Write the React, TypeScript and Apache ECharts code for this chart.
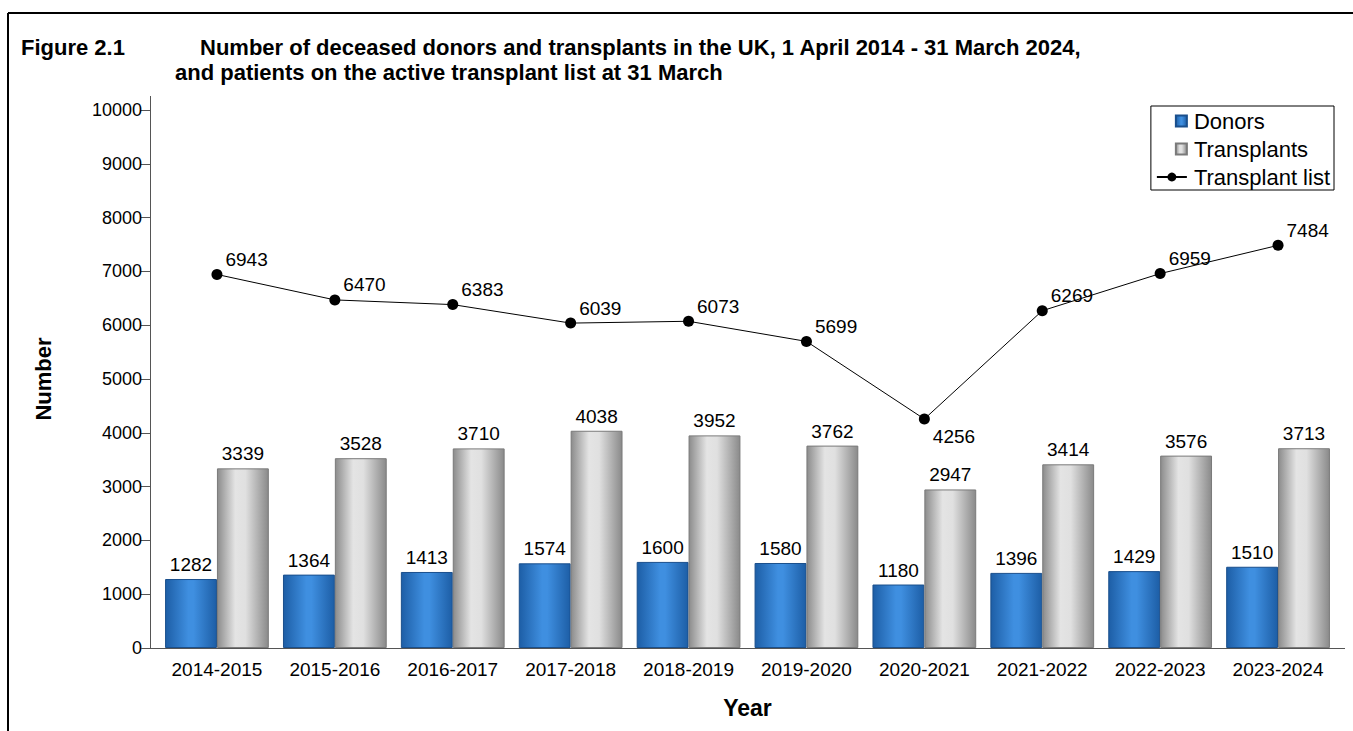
import React, { useEffect, useRef } from "react";
import * as echarts from "echarts";

const categories = [
  "2014-2015", "2015-2016", "2016-2017", "2017-2018", "2018-2019",
  "2019-2020", "2020-2021", "2021-2022", "2022-2023", "2023-2024",
];
const donors = [1282, 1364, 1413, 1574, 1600, 1580, 1180, 1396, 1429, 1510];
const transplants = [3339, 3528, 3710, 4038, 3952, 3762, 2947, 3414, 3576, 3713];
const transplantList = [6943, 6470, 6383, 6039, 6073, 5699, 4256, 6269, 6959, 7484];
const belowLabelIndex = 6;

const FONT = "'Liberation Sans', Arial, sans-serif";

export default function App() {
  const ref = useRef<HTMLDivElement>(null);
  useEffect(() => {
    if (!ref.current) return;
    const chart = echarts.init(ref.current, null, { renderer: "svg" });
    const blueGrad = new echarts.graphic.LinearGradient(0, 0, 1, 0, [
      { offset: 0, color: "#1d5ea6" },
      { offset: 0.45, color: "#3f8fe0" },
      { offset: 0.55, color: "#3f8fe0" },
      { offset: 1, color: "#1d5ea6" },
    ]);
    const grayGrad = new echarts.graphic.LinearGradient(0, 0, 1, 0, [
      { offset: 0, color: "#8c8c8c" },
      { offset: 0.35, color: "#e4e4e4" },
      { offset: 0.55, color: "#e0e0e0" },
      { offset: 1, color: "#8a8a8a" },
    ]);
    const sq = "path://M0,5 M19,0 L30,0 L30,11 L19,11 Z";
    const dataLabel = { fontSize: 19, color: "#000", fontFamily: FONT };
    chart.setOption({
      animation: false,
      textStyle: { fontFamily: FONT },
      grid: { left: 158, right: 16, top: 110, bottom: 83, containLabel: false },
      legend: {
        orient: "vertical",
        right: 19,
        top: 106,
        padding: [4, 4, 2, 5],
        borderColor: "#000",
        borderWidth: 1,
        itemGap: 6,
        itemWidth: 30,
        itemHeight: 11,
        textStyle: { fontSize: 22, color: "#000", fontFamily: FONT, padding: [0, 0, 0, 2] },
        data: [
          { name: "Donors", icon: sq },
          { name: "Transplants", icon: sq },
          { name: "Transplant list" },
        ],
      },
      xAxis: {
        type: "category",
        data: categories,
        name: "Year",
        nameLocation: "middle",
        nameGap: 48,
        nameTextStyle: { fontSize: 23, fontWeight: "bold", color: "#000", fontFamily: FONT },
        axisLine: { show: false },
        axisTick: { show: false },
        axisLabel: { fontSize: 19, color: "#000", fontFamily: FONT, margin: 12, interval: 0 },
      },
      yAxis: {
        type: "value",
        min: 0,
        max: 10000,
        interval: 1000,
        offset: 8,
        name: "Number",
        nameLocation: "middle",
        nameGap: 96,
        nameTextStyle: { fontSize: 22, fontWeight: "bold", color: "#000", fontFamily: FONT },
        axisLine: { show: true, lineStyle: { color: "#555", width: 1 } },
        axisTick: { show: true, length: 9, lineStyle: { color: "#555" } },
        splitLine: { show: false },
        axisLabel: { fontSize: 18, color: "#000", fontFamily: FONT, margin: 8, formatter: (v: number) => String(v) },
      },
      series: [
        {
          name: "Donors",
          type: "bar",
          data: donors,
          barGap: "0%",
          barCategoryGap: "12%",
          itemStyle: { color: blueGrad, borderColor: "#1a4f8c", borderWidth: 1 },
          label: { show: true, position: "top", distance: 5, ...dataLabel },
        },
        {
          name: "Transplants",
          type: "bar",
          data: transplants,
          itemStyle: { color: grayGrad, borderColor: "#7a7a7a", borderWidth: 1 },
          label: { show: true, position: "top", distance: 5, ...dataLabel },
        },
        {
          name: "Transplant list",
          type: "line",
          data: transplantList.map((v, i) => ({
            value: v,
            label: { offset: i === belowLabelIndex ? [3, 17] : [3, -15] },
          })),
          symbol: "circle",
          symbolSize: 11,
          lineStyle: { color: "#000", width: 1 },
          itemStyle: { color: "#000" },
          label: { show: true, position: "right", distance: 0, ...dataLabel },
          z: 5,
        },
      ],
      graphic: [
        { type: "line", shape: { x1: 8, y1: 13, x2: 1360, y2: 13 }, style: { stroke: "#000", lineWidth: 2 } },
        { type: "line", shape: { x1: 8, y1: 13, x2: 8, y2: 740 }, style: { stroke: "#000", lineWidth: 2 } },
        { type: "line", shape: { x1: 150.5, y1: 96, x2: 150.5, y2: 110 }, style: { stroke: "#555", lineWidth: 1 } },
        { type: "line", shape: { x1: 141, y1: 648.5, x2: 1345, y2: 648.5 }, style: { stroke: "#555", lineWidth: 1 }, z: 10 },
        {
          type: "text", left: 21, top: 36,
          style: { text: "Figure 2.1", font: `bold 22px ${FONT}`, fill: "#000" },
        },
        {
          type: "text", left: 200, top: 36,
          style: { text: "Number of deceased donors and transplants in the UK, 1 April 2014 - 31 March 2024,", font: `bold 22px ${FONT}`, fill: "#000" },
        },
        {
          type: "text", left: 175, top: 61,
          style: { text: "and patients on the active transplant list at 31 March", font: `bold 22px ${FONT}`, fill: "#000" },
        },
      ],
    });
    return () => chart.dispose();
  }, []);
  return (
    <div
      ref={ref}
      style={{ position: "fixed", left: 0, top: 0, width: 1353, height: 731, background: "#fff" }}
    />
  );
}
